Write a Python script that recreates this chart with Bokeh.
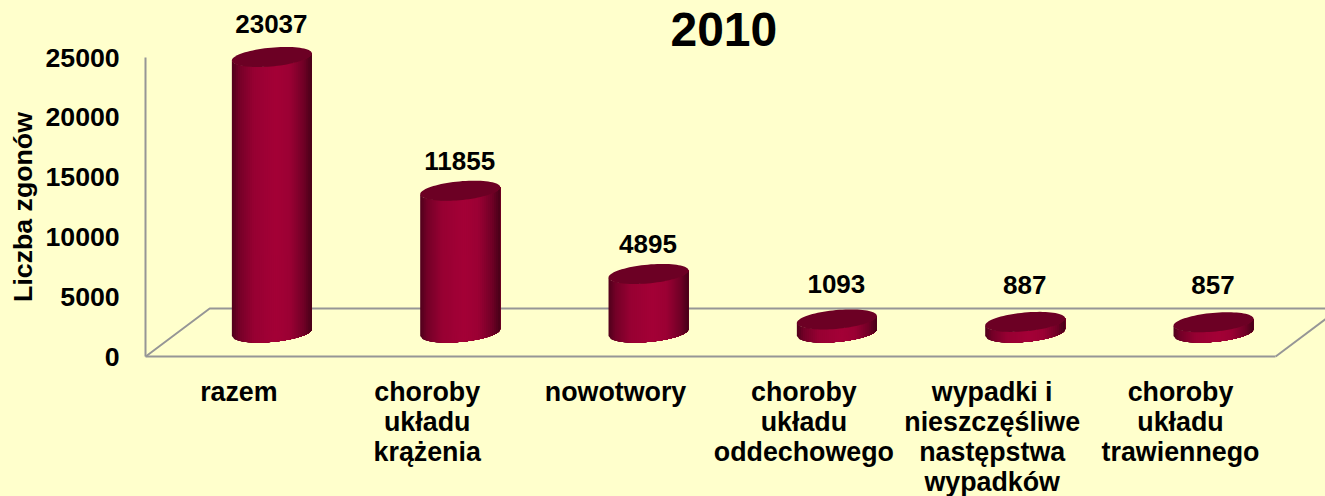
from bokeh.plotting import figure
from bokeh.embed import file_html
from bokeh.resources import INLINE
from bokeh.models import Range1d, FixedTicker, Label
from bokeh.core.properties import value as fixed
import numpy as np

categories = ["razem", "choroby\nukładu\nkrążenia", "nowotwory", "choroby\nukładu\noddechowego",
              "wypadki i\nnieszczęśliwe\nnastępstwa\nwypadków", "choroby\nukładu\ntrawiennego"]
deaths = [23037, 11855, 4895, 1093, 887, 857]
y_ticks = [0, 5000, 10000, 15000, 20000, 25000]
title_text = "2010"
y_title = "Liczba zgonów"

BG = "#FFFFCC"
GRAY = "#969696"
FONT = "Liberation Sans"
W, H = 1325, 496
LEFT = 145.2                 # pixel column of the y axis
BASE = 356                   # pixel row of value 0
PX_X = 188.33                # pixels per category
PX_Y = 299 / 25000           # pixels per death
x_range = Range1d(-0.5 - LEFT / PX_X, -0.5 + (W - LEFT) / PX_X)
y_range = Range1d(-(H - BASE) / PX_Y, BASE / PX_Y)

p = figure(width=W, height=H, x_range=x_range, y_range=y_range, output_backend="svg",
           toolbar_location=None, background_fill_color=BG, border_fill_color=BG,
           min_border_left=0, min_border_right=0, min_border_top=0, min_border_bottom=0)
p.outline_line_color = None
p.grid.visible = False

dx = lambda px: px / PX_X
dy = lambda px: px / PX_Y
DEPTH_X, DEPTH_Y = dx(64), dy(48)

# floor and right wall edge, behind the cylinders
p.line([-0.5, -0.5 + DEPTH_X, 6.5], [0, DEPTH_Y, DEPTH_Y], line_color=GRAY, line_width=2)
p.line([5.5, 5.5 + DEPTH_X], [0, DEPTH_Y], line_color=GRAY, line_width=2)

# cylinders: each strip runs to the right end and is overpainted by the next, so no seams show
A, B, S = dx(40), dy(9.4), dy(3.5)
stops_u = [-1, -0.82, -0.45, 0.1, 0.45, 0.8, 1]
stops_c = [(0x50, 0, 0x1c), (0x74, 0, 0x28), (0x98, 0, 0x33), (0xA4, 0, 0x37),
           (0x9C, 0, 0x34), (0x70, 0, 0x26), (0x48, 0, 0x18)]

def shade(u):
    r, g, b = [np.interp(u, stops_u, [c[i] for c in stops_c]) for i in range(3)]
    return "#%02x%02x%02x" % (int(r), int(g), int(b))

xs, ys, cs = [], [], []
edges = np.linspace(-1, 1, 41)
for i, v in enumerate(deaths):
    cx = i + DEPTH_X / 2
    base, top = DEPTH_Y / 2, v + DEPTH_Y / 2
    for u0, u1 in zip(edges[:-1], edges[1:]):
        us = np.linspace(u0, 1, 30)
        low = base + S * us - B * np.sqrt(np.clip(1 - us**2, 0, None))
        high = top + S * us - B * np.sqrt(np.clip(1 - us**2, 0, None))
        xs.append(list(cx + A * us) + list(cx + A * us[::-1]))
        ys.append(list(low) + list(high[::-1]))
        cs.append(shade((u0 + u1) / 2))
p.patches(xs, ys, fill_color=cs, line_color=None)

t = np.linspace(0, 2 * np.pi, 80)
cap_x = [i + DEPTH_X / 2 + A * np.cos(t) for i in range(len(deaths))]
cap_y = [v + DEPTH_Y / 2 + S * np.cos(t) + B * np.sin(t) for v in deaths]
p.patches(cap_x, cap_y, fill_color="#6c0024", line_color=None)

# value labels
lift_px = [33, 30, 30, 35, 37, 37]
lx = [i + DEPTH_X / 2 - dx(0.5) for i in range(len(deaths))]
ly = [v + DEPTH_Y / 2 + dy(l) for v, l in zip(deaths, lift_px)]
p.text(lx, ly, text=[str(v) for v in deaths], text_font=fixed(FONT), text_font_style="bold",
       text_font_size="26px", text_color="black", text_align="center", text_baseline="middle")

# category labels
p.text([i - dx(1) for i in range(len(categories))], [dy(-20)] * len(categories), text=categories,
       text_font=fixed(FONT), text_font_style="bold", text_font_size="26.8px", text_color="black",
       text_align="center", text_baseline="top", text_line_height=1.0)

# axes
ya = p.yaxis[0]
ya.fixed_location = -0.5
ya.bounds = (0, 25000)
ya.ticker = FixedTicker(ticks=y_ticks)
ya.axis_line_color = GRAY
ya.axis_line_width = 2
ya.major_tick_line_color = None
ya.minor_tick_line_color = None
ya.major_label_text_font = FONT
ya.major_label_text_font_style = "bold"
ya.major_label_text_font_size = "26.7px"
ya.major_label_text_color = "black"
ya.major_label_standoff = 20

xa = p.xaxis[0]
xa.fixed_location = 0
xa.bounds = (-0.5, 5.5)
xa.ticker = FixedTicker(ticks=[])
xa.axis_line_color = GRAY
xa.axis_line_width = 2
xa.major_tick_line_color = None
xa.minor_tick_line_color = None

# y axis title, centred on the axis rather than on the frame
p.add_layout(Label(x=-0.5 - dx(123), y=12500, text=y_title, angle=np.pi / 2, text_font=FONT,
                   text_font_style="bold", text_font_size="26.7px", text_color="black",
                   text_align="center", text_baseline="middle"))

p.add_layout(Label(x=2.57, y=dy(BASE - 29), text=title_text, text_font=FONT, text_font_style="bold",
                   text_font_size="48px", text_color="black", text_align="center",
                   text_baseline="middle"))

html = file_html(p, INLINE)
html = html.replace("<head>", "<head><style>html,body{background:%s;}</style>" % BG, 1)
open("out.html", "w").write(html)
